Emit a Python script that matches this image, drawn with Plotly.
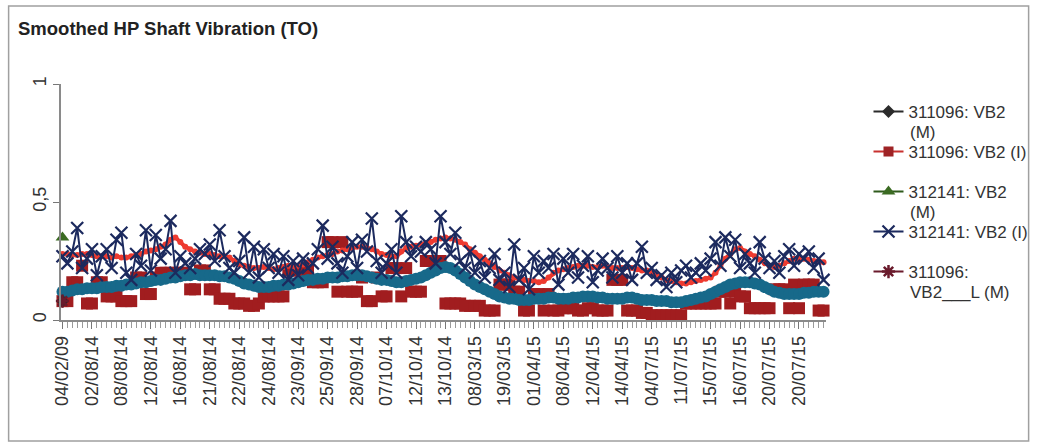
import plotly.graph_objects as go

# ---------------- data ----------------
tick_labels = ["04/02/09", "02/08/14", "08/08/14", "12/08/14", "16/08/14", "21/08/14",
               "22/08/14", "24/08/14", "23/09/14", "25/09/14", "28/09/14", "07/10/14",
               "12/10/14", "13/10/14", "08/03/15", "19/03/15", "01/04/15", "08/04/15",
               "12/04/15", "14/04/15", "04/07/15", "11/07/15", "15/07/15", "16/07/15",
               "20/07/15", "20/07/15"]
tick_index = [0, 6, 12, 18, 24, 30, 36, 42, 48, 54, 60, 66, 72, 78, 84, 90, 96,
              102, 108, 114, 120, 126, 132, 138, 144, 150]

teal_vals = [0.12, 0.12, 0.125, 0.13, 0.13, 0.135,
             0.135, 0.135, 0.14, 0.14, 0.14, 0.145,
             0.145, 0.15, 0.15, 0.155, 0.16, 0.16,
             0.165, 0.17, 0.17, 0.175, 0.18, 0.18,
             0.185, 0.19, 0.19, 0.195, 0.19, 0.19,
             0.19, 0.19, 0.185, 0.185, 0.18, 0.175,
             0.165, 0.155, 0.15, 0.145, 0.14, 0.14,
             0.14, 0.145, 0.145, 0.15, 0.15, 0.155,
             0.16, 0.165, 0.17, 0.17, 0.175, 0.175,
             0.18, 0.18, 0.18, 0.185, 0.185, 0.19,
             0.19, 0.19, 0.185, 0.18, 0.175, 0.17,
             0.17, 0.165, 0.16, 0.16, 0.165, 0.17,
             0.175, 0.18, 0.19, 0.2, 0.21, 0.22,
             0.225, 0.22, 0.21, 0.195, 0.18, 0.165,
             0.15, 0.14, 0.13, 0.12, 0.11, 0.1,
             0.095, 0.09, 0.09, 0.085, 0.085, 0.085,
             0.09, 0.09, 0.09, 0.095, 0.095, 0.09,
             0.09, 0.09, 0.095, 0.095, 0.1, 0.1,
             0.1, 0.095, 0.095, 0.09, 0.09, 0.09,
             0.09, 0.095, 0.095, 0.09, 0.085, 0.085,
             0.085, 0.08, 0.08, 0.08, 0.075, 0.075,
             0.075, 0.08, 0.085, 0.09, 0.095, 0.1,
             0.11, 0.12, 0.13, 0.14, 0.15, 0.155,
             0.16, 0.16, 0.16, 0.155, 0.15, 0.14,
             0.13, 0.12, 0.115, 0.11, 0.11, 0.11,
             0.11, 0.115, 0.115, 0.12, 0.12, 0.12]

red_vals = [0.28, 0.28, 0.275, 0.275, 0.28, 0.28,
            0.275, 0.27, 0.27, 0.27, 0.265, 0.27,
            0.265, 0.265, 0.27, 0.275, 0.28, 0.29,
            0.295, 0.3, 0.31, 0.32, 0.34, 0.35,
            0.33, 0.31, 0.3, 0.29, 0.285, 0.28,
            0.28, 0.275, 0.27, 0.27, 0.265, 0.25,
            0.235, 0.23, 0.225, 0.22, 0.22, 0.225,
            0.22, 0.215, 0.22, 0.225, 0.23, 0.225,
            0.23, 0.235, 0.245, 0.255, 0.265, 0.27,
            0.275, 0.28, 0.29, 0.295, 0.3, 0.305,
            0.31, 0.31, 0.305, 0.3, 0.29, 0.28,
            0.275, 0.27, 0.27, 0.29, 0.305, 0.31,
            0.315, 0.32, 0.325, 0.33, 0.34, 0.345,
            0.35, 0.345, 0.34, 0.33, 0.32, 0.3,
            0.285, 0.27, 0.255, 0.24, 0.225, 0.21,
            0.2, 0.19, 0.18, 0.175, 0.17, 0.165,
            0.165, 0.16, 0.165, 0.18, 0.2, 0.21,
            0.215, 0.22, 0.225, 0.23, 0.23, 0.23,
            0.225, 0.225, 0.23, 0.225, 0.22, 0.22,
            0.22, 0.225, 0.22, 0.215, 0.21, 0.21,
            0.2, 0.19, 0.18, 0.17, 0.165, 0.16,
            0.155, 0.155, 0.16, 0.165, 0.17, 0.175,
            0.18, 0.2, 0.23, 0.26, 0.28, 0.3,
            0.305, 0.29, 0.28, 0.27, 0.255, 0.24,
            0.23, 0.225, 0.23, 0.24, 0.25, 0.26,
            0.26, 0.26, 0.255, 0.25, 0.25, 0.245]

vb2_i_311096 = [0.08, 0.08, 0.16, 0.16, 0.23, 0.07,
                0.07, 0.16, 0.16, 0.10, 0.10, 0.10,
                0.08, 0.08, 0.08, 0.18, 0.18, 0.11,
                0.11, 0.18, 0.2, 0.2, 0.2, 0.2,
                0.2, 0.2, 0.13, 0.13, 0.21, 0.21,
                0.13, 0.13, 0.09, 0.09, 0.09, 0.07,
                0.07, 0.07, 0.06, 0.06, 0.07, 0.1,
                0.1, 0.1, 0.1, 0.1, 0.21, 0.21,
                0.21, 0.21, 0.21, 0.16, 0.16, 0.16,
                0.33, 0.33, 0.12, 0.33, 0.12, 0.12,
                0.12, 0.18, 0.08, 0.08, 0.18, 0.1,
                0.1, 0.22, 0.22, 0.1, 0.22, 0.12,
                0.12, 0.12, 0.25, 0.25, 0.25, 0.25,
                0.07, 0.07, 0.07, 0.07, 0.06, 0.06,
                0.06, 0.06, 0.04, 0.04, 0.04, 0.15,
                0.15, 0.15, 0.12, 0.12, 0.04, 0.04,
                0.11, 0.11, 0.04, 0.11, 0.04, 0.04,
                0.05, 0.05, 0.05, 0.04, 0.04, 0.05,
                0.05, 0.04, 0.04, 0.04, 0.17, 0.17,
                0.17, 0.04, 0.04, 0.04, 0.03, 0.03,
                0.02, 0.02, 0.02, 0.02, 0.02, 0.02,
                0.02, 0.07, 0.07, 0.07, 0.07, 0.07,
                0.07, 0.07, 0.12, 0.12, 0.07, 0.12,
                0.1, 0.1, 0.05, 0.05, 0.05, 0.05,
                0.05, 0.13, 0.13, 0.13, 0.05, 0.15,
                0.05, 0.15, 0.15, 0.15, 0.04, 0.04]

vb2_i_312141 = [0.27, 0.24, 0.29, 0.39, 0.22, 0.26,
                0.3, 0.19, 0.27, 0.3, 0.22, 0.34,
                0.37, 0.2, 0.17, 0.28, 0.23, 0.38,
                0.21, 0.36, 0.26, 0.3, 0.42, 0.2,
                0.27, 0.24, 0.22, 0.26, 0.3, 0.28,
                0.32, 0.25, 0.38, 0.27, 0.22, 0.2,
                0.25, 0.35, 0.2, 0.31, 0.18, 0.3,
                0.22, 0.28, 0.2, 0.27, 0.17, 0.25,
                0.19, 0.26, 0.22, 0.24, 0.3, 0.4,
                0.26, 0.31, 0.24, 0.2, 0.27, 0.33,
                0.22, 0.34, 0.29, 0.43, 0.25, 0.2,
                0.24, 0.3, 0.2, 0.44, 0.33, 0.27,
                0.31, 0.29, 0.33, 0.3, 0.24, 0.44,
                0.33, 0.28, 0.37, 0.25, 0.22, 0.29,
                0.2, 0.25, 0.18, 0.22, 0.28, 0.17,
                0.2, 0.14, 0.32, 0.17, 0.22, 0.13,
                0.27, 0.2, 0.25, 0.22, 0.28, 0.15,
                0.26, 0.2, 0.28, 0.18, 0.23, 0.27,
                0.16, 0.21, 0.26, 0.22, 0.18, 0.27,
                0.2, 0.24, 0.17, 0.24, 0.31, 0.2,
                0.22, 0.17, 0.19, 0.14, 0.2, 0.16,
                0.21, 0.23, 0.18, 0.2, 0.24, 0.21,
                0.26, 0.33, 0.23, 0.35, 0.27, 0.34,
                0.22, 0.28, 0.24, 0.2, 0.33, 0.26,
                0.22, 0.25, 0.2, 0.27, 0.3, 0.23,
                0.28, 0.26, 0.29, 0.22, 0.26, 0.17]

vb2_m_311096 = [0.08]
vb2_m_312141 = [0.35]
vb2_l_m_311096 = [0.08]

# legend text: first line (legend entry) and wrapped second line
legend_first = ["311096: VB2", "311096: VB2 (I)", "312141: VB2", "312141: VB2 (I)", "311096:"]
legend_second = ["(M)", "", "(M)", "", "VB2___L (M)"]

# ---------------- figure ----------------
W, H = 1046, 444
L, R, T, B = 61, 835, 84, 320
FONT = "Liberation Sans, Arial, sans-serif"
LEG_FS = 17
LEG_TEXT_X = 919
LEG_ROW0 = 112      # centre of first legend row (px)
LEG_STEP = 40       # spacing between legend entries (px)
LINE_H = 20         # wrapped line spacing (px)

n = len(teal_vals)
idx = list(range(n))
x_range = [-0.3, n - 0.5]

fig = go.Figure()

# dark red squares (311096: VB2 (I)) - markers
fig.add_trace(go.Scatter(x=idx, y=vb2_i_311096, mode="markers", showlegend=False,
                         marker=dict(symbol="square", size=12, color="#a11d1f"),
                         cliponaxis=False))
# teal smoothed band
fig.add_trace(go.Scatter(x=idx, y=teal_vals, mode="lines+markers", showlegend=False,
                         line=dict(color="#17698a", width=8),
                         marker=dict(symbol="circle", size=12, color="#17698a"),
                         cliponaxis=False))
# bright red smoothed line
fig.add_trace(go.Scatter(x=idx, y=red_vals, mode="lines+markers", showlegend=False,
                         line=dict(color="#e8332c", width=4),
                         marker=dict(symbol="circle", size=6, color="#ee3b30"),
                         cliponaxis=False))
# navy X (312141: VB2 (I))
fig.add_trace(go.Scatter(x=idx, y=vb2_i_312141, mode="lines+markers",
                         name=legend_first[3], legendrank=4, legendgroup="g4",
                         line=dict(color="#1c2a5e", width=2),
                         marker=dict(symbol="x-thin-open", size=12,
                                     line=dict(color="#1c2a5e", width=2.2)),
                         cliponaxis=False))
# legend entry for squares series
fig.add_trace(go.Scatter(x=[None], y=[None], mode="lines+markers",
                         name=legend_first[1], legendrank=2, legendgroup="g2",
                         line=dict(color="#c8312f", width=2),
                         marker=dict(symbol="square", size=10, color="#9e2325")))
# single-point series
fig.add_trace(go.Scatter(x=idx[:len(vb2_m_311096)], y=vb2_m_311096, mode="lines+markers",
                         name=legend_first[0], legendrank=1, legendgroup="g1",
                         line=dict(color="#2b2b2b", width=2),
                         marker=dict(symbol="diamond", size=10, color="#2b2b2b"),
                         cliponaxis=False))
fig.add_trace(go.Scatter(x=idx[:len(vb2_m_312141)], y=vb2_m_312141, mode="lines+markers",
                         name=legend_first[2], legendrank=3, legendgroup="g3",
                         line=dict(color="#2f5a1c", width=2),
                         marker=dict(symbol="triangle-up", size=12, color="#3b6b22"),
                         cliponaxis=False))
fig.add_trace(go.Scatter(x=idx[:len(vb2_l_m_311096)], y=vb2_l_m_311096, mode="lines+markers",
                         name=legend_first[4], legendrank=5, legendgroup="g5",
                         line=dict(color="#6a1b2c", width=2),
                         marker=dict(symbol="asterisk-open", size=11,
                                     line=dict(color="#6a1b2c", width=2.5)),
                         cliponaxis=False))

def px_x(p):
    return (p - L) / (R - L)

def px_y(p):
    return (B - p) / (B - T)

annotations = []
for k, txt in enumerate(legend_second):
    if txt:
        annotations.append(dict(
            text=txt, xref="paper", yref="paper", showarrow=False,
            x=px_x(LEG_TEXT_X), xanchor="left",
            y=px_y(LEG_ROW0 + k * LEG_STEP + LINE_H), yanchor="middle",
            borderpad=0,
            font=dict(family=FONT, size=LEG_FS, color="#333333")))

item_h = LEG_FS * 1.3 + 3

fig.update_layout(
    width=W, height=H, autosize=False,
    margin=dict(l=L, r=W - R, t=T, b=H - B, pad=0),
    paper_bgcolor="white", plot_bgcolor="white",
    separators=",.",
    font=dict(family=FONT, size=17, color="#333333"),
    title=dict(text="<b>Smoothed HP Shaft Vibration (TO)</b>",
               font=dict(family=FONT, size=18.5, color="#222222"),
               xref="container", x=18 / W, xanchor="left",
               yref="container", y=1 - 29 / H, yanchor="middle"),
    legend=dict(x=px_x(LEG_TEXT_X - 41), xanchor="left",
                y=px_y(LEG_ROW0 - 18), yanchor="top",
                font=dict(family=FONT, size=LEG_FS, color="#333333"),
                valign="middle", bgcolor="rgba(0,0,0,0)", borderwidth=0,
                tracegroupgap=LEG_STEP - item_h),
    annotations=annotations,
    xaxis=dict(range=x_range, tickmode="array", tickvals=tick_index,
               ticktext=tick_labels, tickangle=-90, showgrid=False, zeroline=False,
               showline=True, linecolor="#8a8a8a", linewidth=1.5,
               ticks="outside", ticklen=7, tickcolor="#777777",
               tickfont=dict(family=FONT, size=18, color="#333333"),
               minor=dict(dtick=1, ticks="outside", ticklen=6, tickcolor="#9a9a9a",
                          tickwidth=1, showgrid=False)),
    xaxis2=dict(range=x_range, overlaying="x", anchor="y", side="bottom",
                showgrid=False, zeroline=False, showticklabels=False, showline=False,
                tickmode="linear", tick0=0, dtick=1, ticks="inside", ticklen=5,
                tickcolor="#a5a5a5", tickwidth=1),
    yaxis=dict(range=[0, 1], tickvals=[0, 0.5, 1], tickangle=-90, showgrid=False,
               zeroline=False, showline=True, linecolor="#8a8a8a", linewidth=1.5,
               ticks="outside", ticklen=6, tickcolor="#777777",
               tickfont=dict(family=FONT, size=18, color="#333333")),
    shapes=[dict(type="rect", xref="paper", yref="paper",
                 x0=px_x(8), x1=px_x(1040), y0=px_y(441), y1=px_y(6),
                 line=dict(color="#a0a0a0", width=1.5), fillcolor="rgba(0,0,0,0)",
                 layer="below")],
)

post = (
    "document.documentElement.style.margin='0';"
    "document.documentElement.style.overflow='hidden';"
    "document.body.style.margin='0';document.body.style.padding='0';"
    "document.body.style.overflow='hidden';"
    "var gd=document.getElementById('{plot_id}');"
    "gd.style.width='%dpx';gd.style.height='%dpx';"
    "Plotly.relayout(gd,{width:%d,height:%d});" % (W, H, W, H)
)

fig.write_html("out.html", config={"displayModeBar": False, "responsive": False},
               post_script=post)
